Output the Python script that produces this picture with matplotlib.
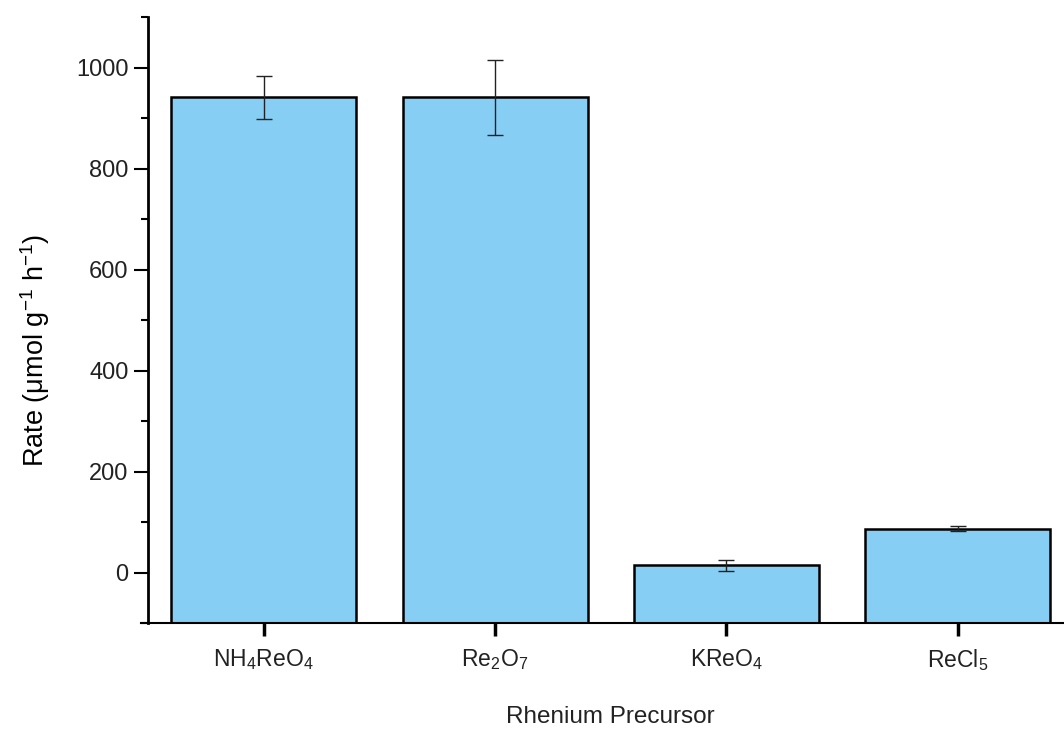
import numpy as np
import matplotlib.pyplot as plt
from matplotlib.ticker import MultipleLocator

# 数据
precursors = ['NH$_4$ReO$_4$', 'Re$_2$O$_7$', 'KReO$_4$', 'ReCl$_5$']
rates = [941, 941, 14, 87]
errors = [43, 74, 11, 5]

plt.rcParams['font.family'] = ['Liberation Sans', 'DejaVu Sans']
plt.rcParams['mathtext.fontset'] = 'custom'
plt.rcParams['mathtext.rm'] = 'Liberation Sans'
plt.rcParams['mathtext.it'] = 'Liberation Sans'

fig = plt.figure(figsize=(10.64, 7.29), dpi=100)
ax = fig.add_axes([148 / 1064, 106 / 729, 925.5 / 1064, 606 / 729])

x = np.arange(len(precursors))
base = -100
ax.bar(x, np.array(rates) - base, bottom=base, width=0.8, color='#87CEF5',
       edgecolor='black', linewidth=1.8, zorder=2)
ax.errorbar(x, rates, yerr=errors, fmt='none', ecolor='#222222',
            elinewidth=1.0, capsize=6, capthick=1.0, zorder=3)

ax.set_xlim(-0.5, 3.5)
ax.set_ylim(-100, 1100)
ax.set_xticks(x)
ax.set_xticklabels(precursors, fontsize=16.5, color='#222222')
ax.yaxis.set_major_locator(MultipleLocator(200))
ax.yaxis.set_minor_locator(MultipleLocator(100))
ax.set_yticks([0, 200, 400, 600, 800, 1000])
ax.tick_params(axis='y', which='major', length=10, width=1.5, labelsize=17,
               labelcolor='#222222', pad=4)
ax.tick_params(axis='y', which='minor', length=5, width=1.5)
ax.tick_params(axis='x', which='major', length=9, width=2.5, pad=8)

for s in ['top', 'right']:
    ax.spines[s].set_visible(False)
ax.spines['left'].set_linewidth(2)
ax.spines['bottom'].set_linewidth(1.5)
ax.spines['bottom'].set_bounds(-0.53, 3.5)

ax.set_xlabel('Rhenium Precursor', fontsize=17.5, color='#222222', labelpad=24)
fig.text(35 / 1064, 1 - 350 / 729, r'Rate ($\mathregular{\mu}$mol g$^{-1}$ h$^{-1}$)',
         rotation=90, fontsize=19.5, ha='center', va='center', color='black')

plt.savefig('out.png', dpi=100)
